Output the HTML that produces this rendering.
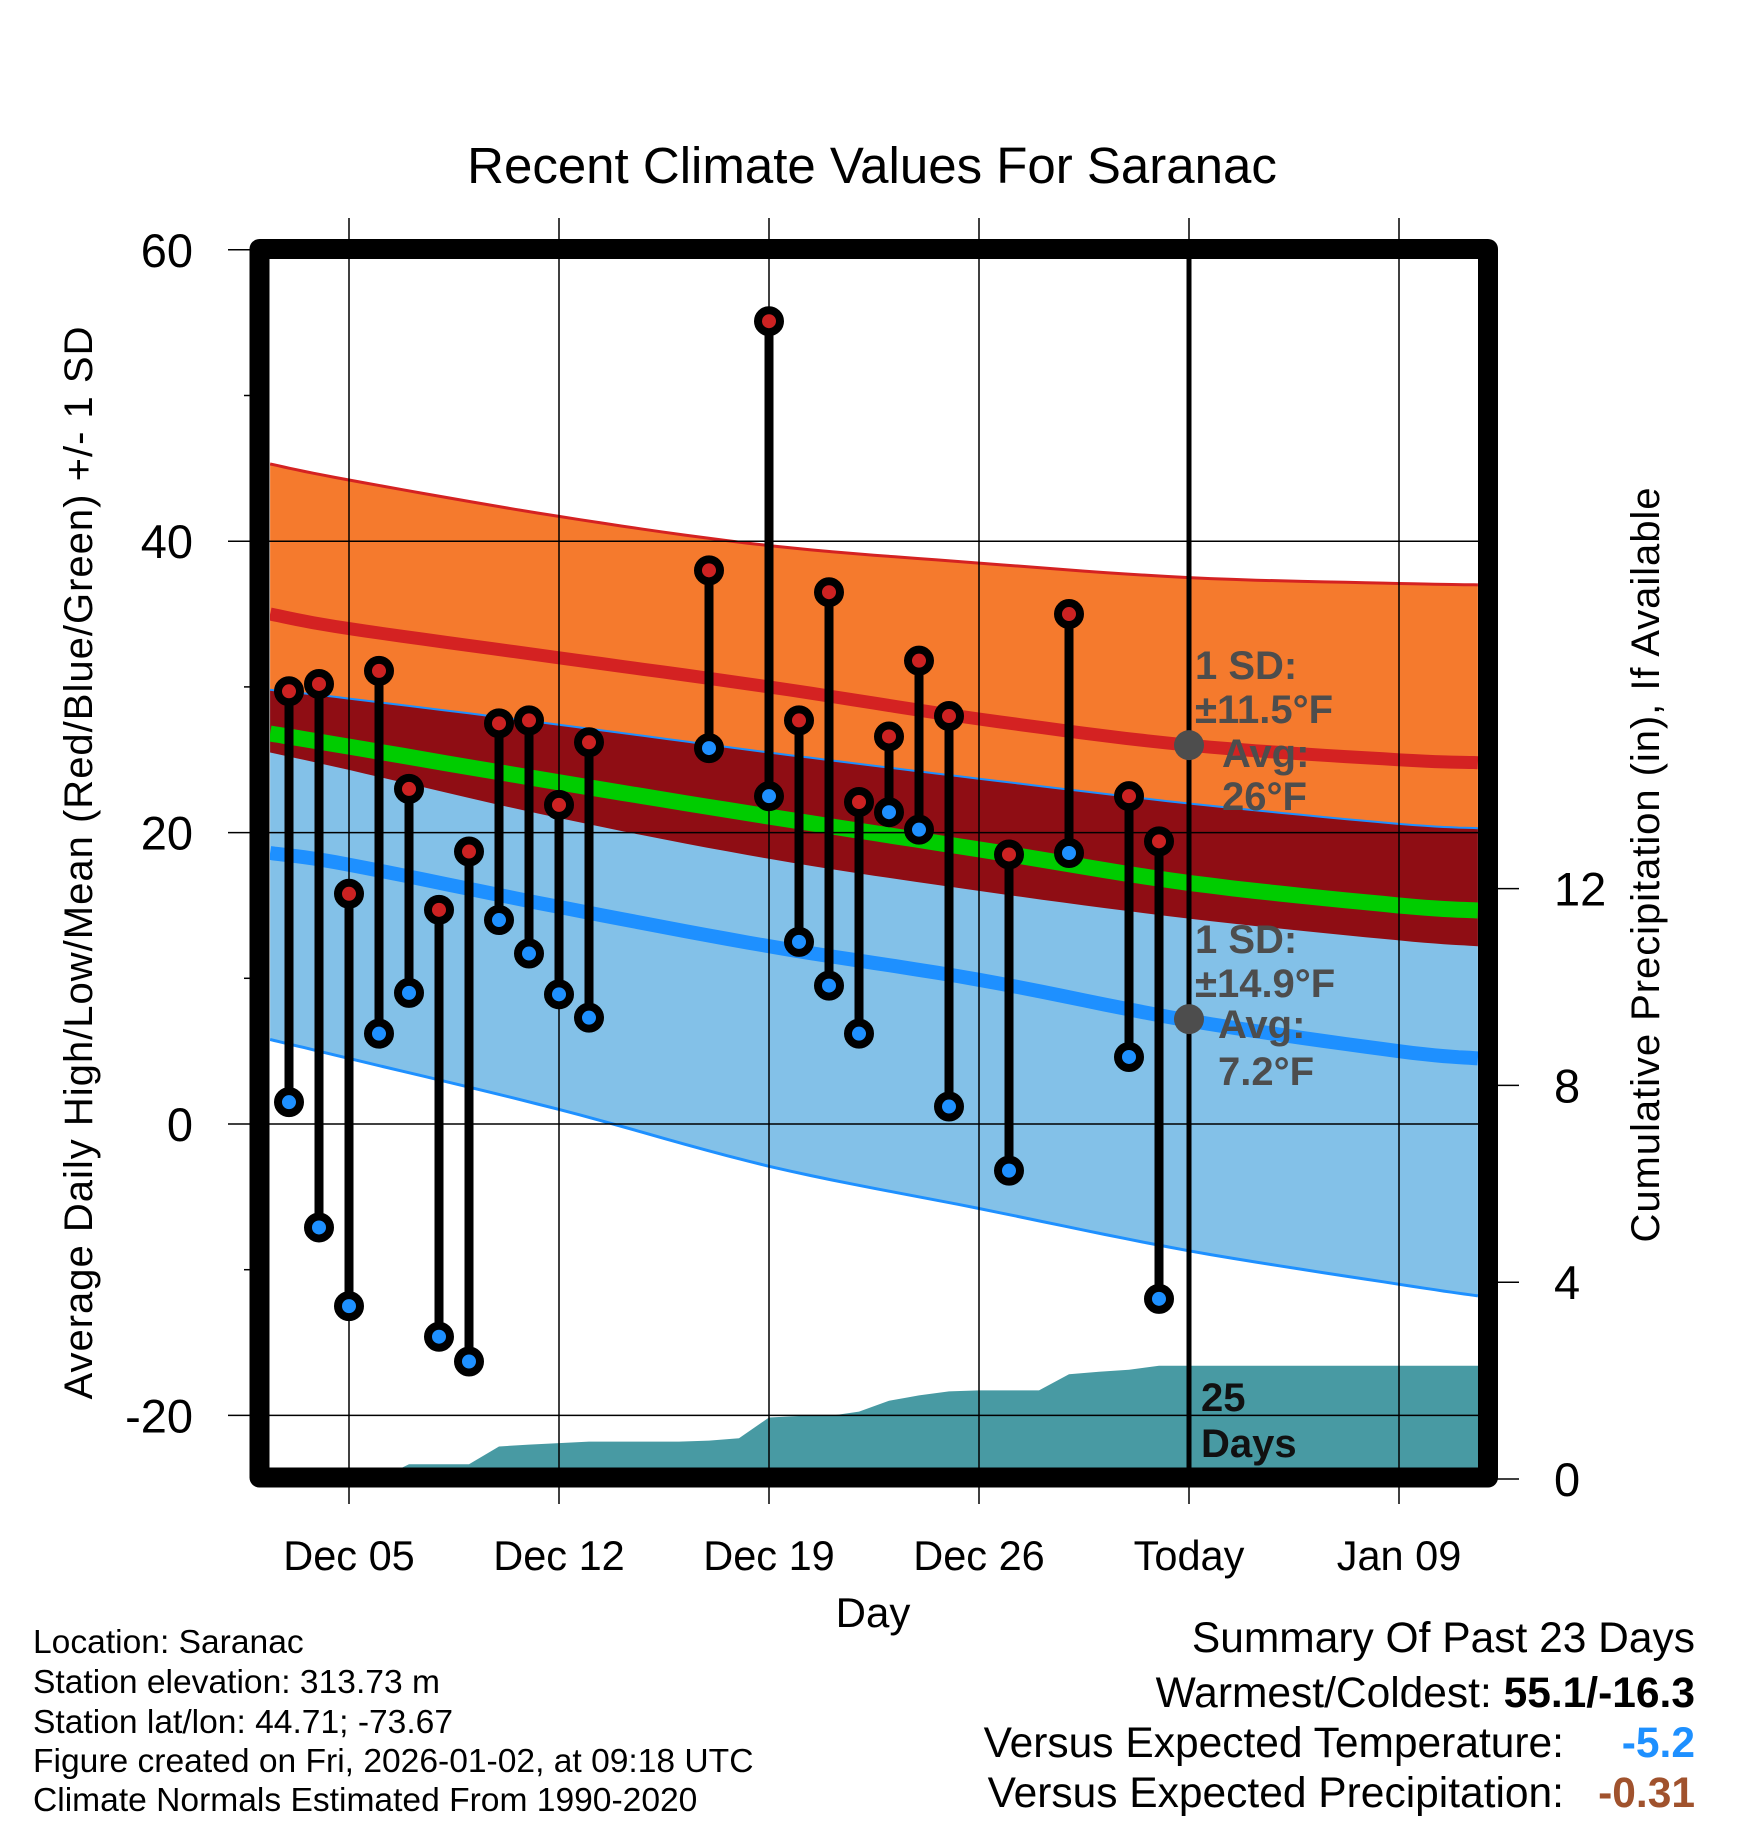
<!DOCTYPE html>
<html><head><meta charset="utf-8"><style>
html,body{margin:0;padding:0;background:#fff}
svg{display:block;font-family:"Liberation Sans",Arial,sans-serif}
</style></head><body>
<svg id="chart" width="1748" height="1828" viewBox="0 0 1748 1828" xmlns="http://www.w3.org/2000/svg">
<defs><clipPath id="plotclip"><rect x="270" y="259" width="1208" height="1209"/></clipPath></defs>
<g id="bands" clip-path="url(#plotclip)"></g>
<g id="precip" clip-path="url(#plotclip)"></g>
<g id="grid"></g>
<g id="marks"></g>
<g id="labels"></g>
<text x="872" y="183" font-size="51" text-anchor="middle">Recent Climate Values For Saranac</text>
<text transform="translate(92,863) rotate(-90)" font-size="40" text-anchor="middle" textLength="1073">Average Daily High/Low/Mean (Red/Blue/Green) +/- 1 SD</text>
<text transform="translate(1659,865) rotate(-90)" font-size="40" text-anchor="middle" textLength="755">Cumulative Precipitation (in), If Available</text>
<text x="873" y="1627" font-size="42" text-anchor="middle">Day</text>
<g font-size="33.6">
<text x="33" y="1653">Location: Saranac</text>
<text x="33" y="1693">Station elevation: 313.73 m</text>
<text x="33" y="1733">Station lat/lon: 44.71; -73.67</text>
<text x="33" y="1772">Figure created on Fri, 2026-01-02, at 09:18 UTC</text>
<text x="33" y="1811">Climate Normals Estimated From 1990-2020</text>
</g>
<g font-size="42.5" text-anchor="end">
<text x="1695" y="1652">Summary Of Past 23 Days</text>
<text x="1695" y="1707">Warmest/Coldest: <tspan font-weight="bold">55.1/-16.3</tspan></text>
<text x="1564" y="1757">Versus Expected Temperature:</text>
<text x="1695" y="1757" font-weight="bold" fill="#1e90ff">-5.2</text>
<text x="1564" y="1807">Versus Expected Precipitation:</text>
<text x="1695" y="1807" font-weight="bold" fill="#a0522d">-0.31</text>
</g>
</svg>
<script>
// day offsets relative to Dec 05
const normDays = [-2.63, 0, 7, 14, 21, 28, 35, 37.63];
const hiTop  = [45.3, 44.2, 41.7, 39.7, 38.5, 37.5, 37.1, 37.0];
const hiMean = [35.0, 34.0, 32.0, 30.0, 27.8, 26.0, 25.0, 24.8];
const hiBot  = [25.5, 24.3, 21.0, 18.2, 16.0, 14.1, 12.6, 12.2];
const loTop  = [29.8, 29.2, 27.4, 25.5, 23.7, 22.0, 20.6, 20.3];
const loMean = [18.6, 17.8, 14.9, 12.2, 9.9, 7.1, 5.0, 4.5];
const loBot  = [5.8, 4.5, 1.0, -2.9, -5.8, -8.7, -11.0, -11.8];
const obsDays = [-2,-1,0,1,2,3,4,5,6,7,8,12,14,15,16,17,18,19,20,22,24,26,27];
const obsHigh = [29.7,30.2,15.8,31.1,23.0,14.7,18.7,27.5,27.7,21.9,26.2,38.0,55.1,27.7,36.5,22.1,26.6,31.8,28.0,18.5,35.0,22.5,19.4];
const obsLow  = [1.5,-7.1,-12.5,6.2,9.0,-14.6,-16.3,14.0,11.7,8.9,7.3,25.8,22.5,12.5,9.5,6.2,21.4,20.2,1.2,-3.2,18.6,4.6,-12.0];
const precipDays = [-2,-1,0,1,2,3,4,5,6,7,8,9,10,11,12,13,14,15,16,17,18,19,20,21,22,23,24,25,26,27];
const precipVals = [0,0,0,0,0.3,0.3,0.3,0.66,0.7,0.73,0.76,0.76,0.76,0.76,0.78,0.83,1.25,1.28,1.28,1.37,1.59,1.7,1.78,1.8,1.8,1.8,2.13,2.18,2.22,2.3];
const xTickDays = [0,7,14,21,28,35];
const xTickLabels = ["Dec 05","Dec 12","Dec 19","Dec 26","Today","Jan 09"];
const yTicks = [60,40,20,0,-20];
const yMinor = [50,30,10,-10];
const pTicks = [0,4,8,12];
const todayDay = 28;
const avgHigh = 26, avgLow = 7.2;

const NS="http://www.w3.org/2000/svg";
const X = d => 349 + 30*d;
const Y = v => 1124 - 14.57*v;
const P = v => 1479 - 49.2*v;
const XL=270, XR=1478;
function mk(tag, attrs, parent){const e=document.createElementNS(NS,tag);for(const k in attrs)e.setAttribute(k,attrs[k]);parent.appendChild(e);return e;}
function curve(days, vals){
  const pts=[];
  for(let i=0;i<days.length-1;i++){
    const p0=i>0?i-1:i,p3=i+2<days.length?i+2:i+1;
    for(let s=0;s<10;s++){
      const t=s/10,t2=t*t,t3=t2*t;
      const f=(a,b,c,d)=>0.5*((2*b)+(-a+c)*t+(2*a-5*b+4*c-d)*t2+(-a+3*b-3*c+d)*t3);
      pts.push([f(X(days[p0]),X(days[i]),X(days[i+1]),X(days[p3])), f(Y(vals[p0]),Y(vals[i]),Y(vals[i+1]),Y(vals[p3]))]);
    }
  }
  pts.push([X(days[days.length-1]),Y(vals[vals.length-1])]);
  return pts;
}
const s = p => p.map(q=>q[0].toFixed(1)+","+q[1].toFixed(1)).join(" ");
const bands=document.getElementById('bands');
const cTop=curve(normDays,hiTop), cHiB=curve(normDays,hiBot), cLoT=curve(normDays,loTop), cLoB=curve(normDays,loBot);
const green=hiMean.map((v,i)=>(v+loMean[i])/2);
let e;
e=mk('polygon',{points:s(cTop.concat(cHiB.slice().reverse())),fill:'#f57a2d'},bands);


e=mk('polygon',{points:s(cLoT.concat(cLoB.slice().reverse())),fill:'#83c1e8'},bands);


e=mk('polygon',{points:s(cLoT.concat(cHiB.slice().reverse())),fill:'#8f0d14'},bands);


e=mk('polyline',{points:s(cTop),fill:'none',stroke:'#d42222','stroke-width':3},bands);


e=mk('polyline',{points:s(cLoT),fill:'none',stroke:'#1e90ff','stroke-width':2},bands);


e=mk('polyline',{points:s(cLoB),fill:'none',stroke:'#1e90ff','stroke-width':3},bands);


e=mk('polyline',{points:s(curve(normDays,hiMean)),fill:'none',stroke:'#d42222','stroke-width':13},bands);


e=mk('polyline',{points:s(curve(normDays,green)),fill:'none',stroke:'#00cc00','stroke-width':16},bands);


e=mk('polyline',{points:s(curve(normDays,loMean)),fill:'none',stroke:'#1e90ff','stroke-width':14},bands);



const pr=document.getElementById('precip');
let pp=[[XL,P(0)],[XL,P(precipVals[0])]];
precipDays.forEach((d,i)=>pp.push([X(d),P(precipVals[i])]));
pp.push([XR,P(precipVals[precipVals.length-1])],[XR,P(0)]);
e=mk('polygon',{points:s(pp),fill:'#489aa3'},pr);



const g=document.getElementById('grid');
xTickDays.forEach(d=>{e=mk('line',{x1:X(d),x2:X(d),y1:218,y2:1504,stroke:'#000','stroke-width':1.5},g);

});
yTicks.forEach(v=>{e=mk('line',{x1:228,x2:XR,y1:Y(v),y2:Y(v),stroke:'#000','stroke-width':1.5},g);

});
yMinor.forEach(v=>{e=mk('line',{x1:244,x2:260,y1:Y(v),y2:Y(v),stroke:'#000','stroke-width':1.5},g);

});
pTicks.forEach(v=>{e=mk('line',{x1:1488,x2:1519,y1:P(v),y2:P(v),stroke:'#000','stroke-width':1.5},g);

});
e=mk('rect',{x:259.5,y:249,width:1228.5,height:1228.5,fill:'none',stroke:'#000','stroke-width':20,'stroke-linejoin':'round'},g);


e=mk('line',{x1:X(todayDay),x2:X(todayDay),y1:259,y2:1468,stroke:'#000','stroke-width':5},g);



const m=document.getElementById('marks');
obsDays.forEach((d,i)=>{
  e=mk('line',{x1:X(d),x2:X(d),y1:Y(obsHigh[i]),y2:Y(obsLow[i]),stroke:'#000','stroke-width':9},m);
  
  
});
obsDays.forEach((d,i)=>{
  e=mk('circle',{cx:X(d),cy:Y(obsHigh[i]),r:11,fill:'#cc2222',stroke:'#000','stroke-width':8},m);
  
  
  e=mk('circle',{cx:X(d),cy:Y(obsLow[i]),r:11,fill:'#1e90ff',stroke:'#000','stroke-width':8},m);
  
  
});
e=mk('circle',{cx:X(todayDay),cy:Y(avgHigh),r:15,fill:'#4d4d4d'},m);


e=mk('circle',{cx:X(todayDay),cy:Y(avgLow),r:15,fill:'#4d4d4d'},m);



const L=document.getElementById('labels');
function txt(str,attrs,name){const t=mk('text',attrs,L);t.textContent=str;return t;}
yTicks.forEach(v=>{const t=txt(String(v),{x:193,y:Y(v)+17,'font-size':47,'text-anchor':'end'},'y-tick-label');});
pTicks.forEach(v=>{const t=txt(String(v),{x:1554,y:P(v)+17,'font-size':47},'precip-tick-label');});
xTickDays.forEach((d,i)=>{const t=txt(xTickLabels[i],{x:X(d),y:1570,'font-size':41.5,'text-anchor':'middle'},'x-tick-label');});
const ann=[["1 SD:",1195,679],["\u00b111.5\u00b0F",1195,723],["Avg:",1222,767],["26\u00b0F",1222,810],
           ["1 SD:",1195,953],["\u00b114.9\u00b0F",1195,997],["Avg:",1218,1038],["7.2\u00b0F",1218,1085]];
ann.forEach(a=>{const t=txt(a[0],{x:a[1],y:a[2],'font-size':40,'font-weight':'bold',fill:'#4d4d4d'},'sd-annotation');});
let t=txt("25",{x:1201,y:1411,'font-size':40,'font-weight':'bold',fill:'#111'},'days-count');

t=txt("Days",{x:1201,y:1457,'font-size':40,'font-weight':'bold',fill:'#111'},'days-label');

</script>
</body></html>
